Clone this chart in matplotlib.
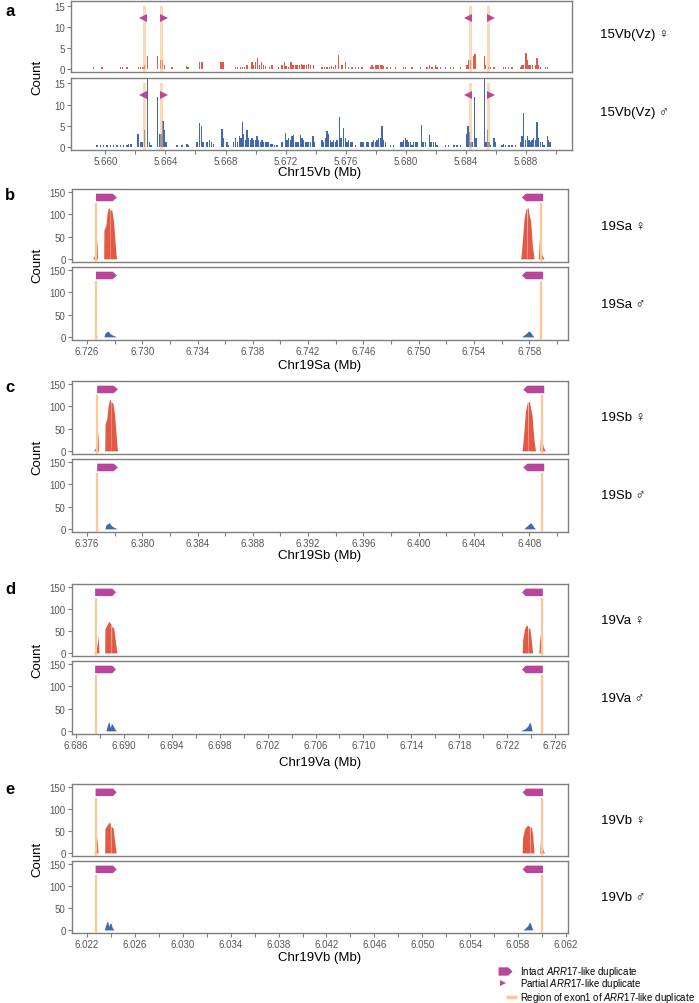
import matplotlib
matplotlib.use("Agg")
import matplotlib.pyplot as plt
from matplotlib.path import Path
from matplotlib.patches import Polygon
import numpy as np

plt.rcParams['font.family'] = ['Liberation Sans', 'DejaVu Sans']
plt.rcParams['mathtext.fontset'] = 'custom'
plt.rcParams['mathtext.it'] = 'Liberation Sans:italic'
plt.rcParams['mathtext.rm'] = 'Liberation Sans'

RED = "#E05A45"
BLUE = "#4169AF"
MAG = "#B9469B"
ORANGE = "#FDC896"
GRID = "#7f7f7f"

# ---------------- panel a : 15Vb(Vz), binned counts (kb) ----------------
a_fem_pos = [5659.22, 5659.78, 5661.00, 5661.15, 5661.44, 5662.22, 5662.33, 5662.51, 5662.62, 5662.80,
             5663.48, 5663.66, 5663.81, 5663.93, 5664.44, 5665.39, 5665.50, 5666.26, 5666.39, 5666.48,
             5667.70, 5667.83, 5668.65, 5668.81, 5668.99, 5669.14, 5669.27, 5669.43, 5669.76, 5669.87,
             5669.98, 5670.14, 5670.27, 5670.38, 5670.54, 5670.65, 5670.94, 5671.09, 5671.54, 5671.76,
             5671.91, 5672.03, 5672.20, 5672.36, 5672.49, 5672.65, 5672.76, 5672.91, 5673.05, 5673.16,
             5673.27, 5673.38, 5673.53, 5673.64, 5673.87, 5674.42, 5674.58, 5674.76, 5674.91, 5675.04,
             5675.20, 5675.31, 5675.53, 5675.75, 5675.97, 5676.19, 5676.42, 5676.64, 5676.86, 5677.09,
             5677.64, 5677.75, 5677.86, 5677.97, 5678.08, 5678.19, 5678.30, 5678.42, 5678.53, 5678.75,
             5678.97, 5679.30, 5679.86, 5679.97, 5680.41, 5680.97, 5681.41, 5681.59, 5681.74, 5681.96,
             5682.08, 5682.30, 5682.63, 5682.96, 5683.18, 5683.63, 5684.07, 5684.18, 5684.29, 5684.51,
             5684.60, 5685.23, 5685.31, 5685.51, 5685.63, 5685.85, 5686.51, 5686.62, 5686.84, 5687.07,
             5687.62, 5687.73, 5687.84, 5688.00, 5688.07, 5688.18, 5688.29, 5688.44, 5688.62, 5688.73,
             5688.80, 5688.95, 5689.29, 5689.40]
a_fem_cnt = [0.5, 0.5, 0.5, 0.5, 0.5, 0.5, 0.5, 0.5, 1, 3,
             3, 2, 2, 1, 0.5, 0.7, 0.5, 1.5, 1.5, 1.5,
             1.5, 1.5, 0.5, 0.5, 0.5, 0.5, 0.5, 1, 1.5, 1,
             1.5, 2.5, 1, 1.5, 1, 0.7, 0.5, 1, 0.5, 1,
             1.5, 0.7, 0.5, 1.5, 1, 1, 1, 1, 1.2, 1,
             1, 1, 1.2, 1, 1, 0.5, 0.5, 0.5, 0.5, 0.7,
             0.5, 1, 3.3, 1, 1.5, 0.5, 0.5, 0.5, 0.5, 0.5,
             0.5, 1, 0.5, 1, 1, 1, 1, 1, 0.7, 0.5,
             0.5, 0.5, 0.5, 0.5, 0.5, 0.5, 0.5, 1, 0.5, 1,
             0.5, 0.5, 0.5, 0.5, 0.5, 0.5, 1, 2, 2, 3,
             3.5, 3, 1, 0.5, 0.5, 0.5, 0.5, 0.5, 0.5, 0.5,
             0.5, 1, 1, 3.8, 2, 1, 1, 1, 1, 2.5,
             1, 0.5, 0.5, 0.5]

a_mal_pos = [5659.45, 5659.67, 5659.89, 5660.11, 5660.33, 5660.55, 5660.78, 5661.00, 5661.22, 5661.44,
             5661.55, 5661.71, 5662.17, 5662.33, 5662.44, 5662.60, 5662.80, 5662.93, 5663.04, 5663.48,
             5663.62, 5663.70, 5663.84, 5663.93, 5664.04, 5664.77, 5665.10, 5665.44, 5665.55, 5666.10,
             5666.28, 5666.39, 5666.50, 5666.77, 5666.92, 5667.05, 5667.21, 5667.76, 5667.83, 5668.10,
             5668.21, 5668.54, 5668.65, 5668.81, 5668.94, 5669.03, 5669.14, 5669.21, 5669.32, 5669.43,
             5669.54, 5669.65, 5669.76, 5669.87, 5669.98, 5670.09, 5670.21, 5670.32, 5670.43, 5670.54,
             5670.65, 5670.76, 5670.87, 5670.98, 5671.09, 5671.25, 5671.42, 5671.76, 5671.98, 5672.09,
             5672.20, 5672.31, 5672.42, 5672.53, 5672.64, 5672.75, 5672.87, 5672.98, 5673.09, 5673.20,
             5673.31, 5673.42, 5673.53, 5673.64, 5673.82, 5673.91, 5674.42, 5674.53, 5674.64, 5674.75,
             5674.86, 5674.98, 5675.09, 5675.20, 5675.31, 5675.42, 5675.57, 5675.68, 5675.86, 5675.97,
             5676.08, 5676.20, 5676.31, 5676.42, 5676.64, 5676.97, 5677.08, 5677.19, 5677.42, 5677.53,
             5677.75, 5677.86, 5677.97, 5678.08, 5678.19, 5678.30, 5678.42, 5678.53, 5678.64, 5678.97,
             5679.19, 5679.64, 5679.75, 5679.86, 5679.97, 5680.08, 5680.19, 5680.30, 5680.41, 5680.52,
             5680.63, 5680.75, 5681.03, 5681.08, 5681.19, 5681.30, 5681.59, 5681.68, 5681.85, 5681.97,
             5682.08, 5682.63, 5682.85, 5683.19, 5683.41, 5683.63, 5684.07, 5684.14, 5684.23, 5684.34,
             5684.45, 5684.58, 5684.67, 5685.23, 5685.32, 5685.41, 5685.52, 5685.63, 5685.85, 5685.96,
             5686.40, 5686.51, 5686.62, 5686.85, 5687.07, 5687.29, 5687.62, 5687.73, 5687.84, 5687.96,
             5688.07, 5688.18, 5688.29, 5688.40, 5688.51, 5688.62, 5688.73, 5688.84, 5688.95, 5689.07,
             5689.18, 5689.40, 5689.49, 5689.58]
a_mal_cnt = [0.5, 0.5, 0.5, 0.5, 0.5, 0.5, 0.5, 0.5, 0.5, 0.5,
             0.7, 0.7, 3, 1, 1, 4, 16, 1, 0.5, 11.7,
             3, 3, 6.2, 4, 1, 0.5, 0.5, 0.7, 0.5, 1,
             5.7, 5, 1, 1, 1.5, 1, 0.7, 4.3, 2, 1,
             0.5, 1, 2, 1, 2.5, 2, 5.8, 3, 1.5, 4,
             2, 1.5, 2, 1.5, 1.5, 2.5, 1.5, 1, 1.5, 1,
             1, 1, 1, 0.7, 0.7, 0.5, 0.5, 1, 3.3, 1.5,
             2, 1.5, 2.5, 2.7, 1, 1, 1, 2.8, 2, 1.5,
             1, 1, 1, 1, 2.5, 1, 1.5, 1, 2, 3.6,
             3, 1.5, 1, 1.5, 1, 1.5, 7.1, 2, 4.5, 2,
             1, 1.5, 1, 1, 0.5, 1, 1, 1, 1, 1,
             1, 1.5, 1, 1.5, 2, 2, 5, 1.5, 1, 0.5,
             0.5, 1, 1, 1.5, 2, 1.5, 1, 1, 0.5, 1,
             1, 1, 5.2, 1, 1, 1, 2.8, 1, 1, 1,
             0.5, 0.5, 0.5, 0.5, 0.5, 0.5, 3, 4.8, 3.5, 1,
             1, 11.7, 2, 16, 1, 4, 1, 0.5, 2, 1,
             0.5, 0.7, 0.5, 0.5, 0.5, 0.5, 1, 2.5, 8, 1.5,
             2.5, 1.5, 1, 1.5, 2, 1.5, 5.8, 2, 1, 1,
             0.5, 2.5, 1.5, 1]

a_exon = [5662.62, 5663.77, 5684.29, 5685.49]
a_partial_left = [5662.48, 5684.15]
a_partial_right = [5663.91, 5685.63]

# ---------------- panels b-e : coverage profiles (kb) ----------------
b_fem_pos = [6726.43, 6726.46, 6726.60, 6726.68, 6726.73, 6726.77,
             6727.21, 6727.23, 6727.37, 6727.45, 6727.55, 6727.62, 6727.645, 6727.65, 6727.665, 6727.67,
             6727.80, 6727.92, 6728.02, 6728.12, 6728.15,
             6757.37, 6757.40, 6757.50, 6757.62, 6757.75, 6757.80, 6757.81, 6757.83, 6757.84, 6757.91,
             6757.98, 6758.10, 6758.22, 6758.35,
             6758.64, 6758.66, 6758.73, 6758.80, 6758.92, 6759.07]
b_fem_cnt = [0, 3, 8, 20, 45, 0,
             0, 65, 75, 100, 115, 113, 112, 0, 0, 110,
             110, 85, 45, 5, 0,
             0, 5, 40, 90, 112, 113, 0, 0, 114, 115,
             100, 85, 30, 0,
             0, 3, 45, 25, 8, 0]
b_mal_pos = [6726.66, 6726.68, 6726.72, 6726.74,
             6727.23, 6727.30, 6727.45, 6727.55, 6727.65, 6727.80, 6728.00, 6728.14,
             6757.45, 6757.60, 6757.75, 6757.90, 6758.00, 6758.10, 6758.25, 6758.35,
             6758.72, 6758.74, 6758.78, 6758.80]
b_mal_cnt = [0, 2, 2, 0,
             0, 8, 12, 13, 8, 5, 2, 0,
             0, 4, 7, 12, 13, 10, 3, 0,
             0, 2, 2, 0]
b_exon = [6726.65, 6758.83]
b_intact = [(6726.65, 6728.17), (6759.00, 6757.46)]

c_fem_pos = [6376.50, 6376.53, 6376.66, 6376.74, 6376.80, 6376.84,
             6377.29, 6377.31, 6377.44, 6377.52, 6377.62, 6377.69, 6377.715, 6377.72, 6377.735, 6377.74,
             6377.87, 6377.99, 6378.09, 6378.19, 6378.22,
             6407.47, 6407.50, 6407.60, 6407.72, 6407.85, 6407.90, 6407.91, 6407.93, 6407.94, 6408.01,
             6408.08, 6408.20, 6408.32, 6408.45,
             6408.74, 6408.76, 6408.83, 6408.90, 6409.02, 6409.17]
c_fem_cnt = [0, 3, 8, 20, 45, 0,
             0, 60, 72, 98, 114, 116, 112, 0, 0, 110,
             108, 85, 45, 5, 0,
             0, 5, 40, 88, 108, 110, 0, 0, 110, 112,
             98, 80, 30, 0,
             0, 3, 45, 25, 8, 0]
c_mal_pos = [6376.72, 6376.74, 6376.78, 6376.80,
             6377.30, 6377.37, 6377.52, 6377.62, 6377.72, 6377.87, 6378.07, 6378.19,
             6407.62, 6407.72, 6407.85, 6407.98, 6408.10, 6408.20, 6408.35, 6408.46,
             6408.82, 6408.84, 6408.88, 6408.90]
c_mal_cnt = [0, 2, 2, 0,
             0, 9, 12, 14, 9, 5, 2, 0,
             0, 4, 7, 11, 14, 10, 3, 0,
             0, 2, 2, 0]
c_exon = [6376.74, 6408.95]
c_intact = [(6376.74, 6378.24), (6409.08, 6407.56)]

d_fem_pos = [6687.50, 6687.55, 6687.70, 6687.80, 6687.85, 6687.92,
             6688.40, 6688.42, 6688.55, 6688.70, 6688.78, 6688.85, 6688.93, 6688.94, 6688.97, 6688.98,
             6689.15, 6689.30, 6689.42,
             6723.25, 6723.30, 6723.45, 6723.60, 6723.70, 6723.72, 6723.74, 6723.76, 6723.90, 6724.05,
             6724.12,
             6724.62, 6724.66, 6724.72, 6724.80, 6724.92, 6725.00]
d_fem_cnt = [0, 3, 10, 25, 40, 0,
             0, 55, 62, 70, 72, 68, 66, 0, 0, 60,
             58, 25, 0,
             0, 30, 55, 63, 62, 0, 0, 58, 55, 20,
             0,
             0, 3, 45, 20, 5, 0]
d_mal_pos = [6688.50, 6688.60, 6688.72, 6688.78, 6688.85, 6688.92, 6688.97, 6689.10, 6689.25, 6689.39,
             6723.15, 6723.35, 6723.55, 6723.75, 6723.87, 6723.97, 6724.09]
d_mal_cnt = [0, 10, 20, 19, 8, 12, 17, 12, 4, 0,
             0, 3, 6, 12, 20, 15, 0]
d_exon = [6687.69, 6724.92]
d_intact = [(6687.60, 6689.34), (6724.98, 6723.24)]

e_fem_pos = [6022.58, 6022.62, 6022.72, 6022.80, 6022.84, 6022.92,
             6023.48, 6023.50, 6023.65, 6023.80, 6023.88, 6023.95, 6023.96, 6023.99, 6024.00,
             6024.17, 6024.30, 6024.44,
             6058.34, 6058.38, 6058.55, 6058.75, 6058.83, 6058.95, 6058.96, 6058.99, 6059.00, 6059.11,
             6059.22, 6059.33,
             6059.78, 6059.82, 6059.89, 6059.98, 6060.10, 6060.22]
e_fem_cnt = [0, 3, 12, 25, 38, 0,
             0, 55, 62, 68, 71, 66, 0, 0, 60,
             58, 30, 0,
             0, 35, 55, 62, 63, 61, 0, 0, 58, 60,
             40, 0,
             0, 3, 40, 20, 5, 0]
e_mal_pos = [6023.45, 6023.55, 6023.68, 6023.75, 6023.82, 6023.90, 6024.00, 6024.10, 6024.25,
             6058.40, 6058.55, 6058.70, 6058.85, 6058.95, 6059.05, 6059.22]
e_mal_cnt = [0, 10, 20, 18, 8, 14, 16, 6, 0,
             0, 3, 7, 12, 18, 14, 0]
e_exon = [6022.78, 6060.00]
e_intact = [(6022.72, 6024.48), (6060.08, 6058.38)]

W, H = 699, 1004
fig = plt.figure(figsize=(W / 100, H / 100), dpi=100)


def add_ax(left, top, right, bottom):
    return fig.add_axes([left / W, 1 - bottom / H, (right - left) / W, (bottom - top) / H])


def style(ax, xlim, ylim, yticks, show_x, major, minor):
    ax.set_yticks(yticks)
    for s in ax.spines.values():
        s.set_color(GRID)
        s.set_linewidth(1.0)
    ax.tick_params(axis="both", colors=GRID, labelcolor="#555555", labelsize=7, length=3, width=0.8, pad=1.5)
    if show_x:
        ax.set_xticks(major)
        ax.set_xticks(minor, minor=True)
        ax.set_xticklabels(["%.3f" % v for v in major])
        ax.tick_params(axis="x", which="minor", colors=GRID, length=3, width=0.8)
    else:
        ax.set_xticks([])
    ax.set_xlim(*xlim)
    ax.set_ylim(*ylim)


def draw_arrow(ax, start, end, y=138, h=17, tip=0.30):
    sgn = 1 if end > start else -1
    body_end = end - sgn * tip
    verts = [(start, y - h / 2), (body_end, y - h / 2), (end, y), (body_end, y + h / 2), (start, y + h / 2)]
    ax.add_patch(Polygon([(v[0] / 1000, v[1]) for v in verts], closed=True, color=MAG, lw=0, zorder=5))


# ---------------- panel a ----------------
xa = (5657.72 / 1000, 5691.05 / 1000)
maj_a = [5.660 + 0.004 * i for i in range(8)]
min_a = [5.662 + 0.004 * i for i in range(8)]
ax1 = add_ax(71, 2, 572, 73)
ax2 = add_ax(71, 79, 572, 151)
for ax, pos, cnt, col, show in [(ax1, a_fem_pos, a_fem_cnt, RED, False), (ax2, a_mal_pos, a_mal_cnt, BLUE, True)]:
    ax.bar(np.array(pos) / 1000, cnt, width=0.00009, color=col, lw=0, zorder=2)
    ax.bar(np.array(a_exon) / 1000, 15.8, bottom=-0.8, width=0.0002, color="#FDB878", alpha=0.55, lw=0, zorder=3)
    ax.plot(np.array(a_partial_left) / 1000, [12.3] * 2, ls="none", marker="<", ms=6, color=MAG, mew=0, zorder=4)
    ax.plot(np.array(a_partial_right) / 1000, [12.3] * 2, ls="none", marker=">", ms=6, color=MAG, mew=0, zorder=4)
    style(ax, xa, (-0.8, 16.3), [0, 5, 10, 15], show, maj_a, min_a)
fig.text(600 / W, 1 - 35 / H, "15Vb(Vz) ♀", fontsize=9.5, va="center")
fig.text(600 / W, 1 - 113 / H, "15Vb(Vz) ♂", fontsize=9.5, va="center")
fig.text(320 / W, 1 - 173 / H, "Chr15Vb (Mb)", fontsize=9.5, ha="center", va="center")
fig.text(37 / W, 1 - 77 / H, "Count", fontsize=9.5, rotation=90, ha="center", va="center")
fig.text(5 / W, 1 - 12 / H, "a", fontsize=12, fontweight="bold", va="center")

# ---------------- panels b-e ----------------
panels = [
    ("b", 190, 263, 268, 341, 366, (6724.92, 6760.80), 6.726, 8, "19Sa", "Chr19Sa (Mb)",
     b_fem_pos, b_fem_cnt, b_mal_pos, b_mal_cnt, b_exon, b_intact),
    ("c", 382, 455, 460, 533, 556, (6374.92, 6410.80), 6.376, 8, "19Sb", "Chr19Sb (Mb)",
     c_fem_pos, c_fem_cnt, c_mal_pos, c_mal_cnt, c_exon, c_intact),
    ("d", 585, 657, 662, 735, 763, (6685.67, 6727.08), 6.686, 10, "19Va", "Chr19Va (Mb)",
     d_fem_pos, d_fem_cnt, d_mal_pos, d_mal_cnt, d_exon, d_intact),
    ("e", 785, 857, 862, 934, 958, (6020.75, 6062.17), 6.022, 10, "19Vb", "Chr19Vb (Mb)",
     e_fem_pos, e_fem_cnt, e_mal_pos, e_mal_cnt, e_exon, e_intact),
]
for (lab, t1, b1, t2, b2, xl_y, xl, first, nstep, name, xlabel,
     fpos, fcnt, mpos, mcnt, exon, intact) in panels:
    top = add_ax(72, t1, 568, b1)
    bot = add_ax(72, t2, 568, b2)
    maj = [first + 0.004 * i for i in range(nstep + 1)]
    mnr = [first - 0.002 + 0.004 * i for i in range(nstep + 2)]
    for ax, pos, cnt, col, show in [(top, fpos, fcnt, RED, False), (bot, mpos, mcnt, BLUE, True)]:
        ax.fill_between(np.array(pos) / 1000, cnt, 0, color=col, lw=0, zorder=2)
        ax.vlines(np.array(exon) / 1000, -7, 126, color=ORANGE, lw=1.6, zorder=3)
        for s, e in intact:
            draw_arrow(ax, s, e)
        style(ax, (xl[0] / 1000, xl[1] / 1000), (-7, 157), [0, 50, 100, 150], show, maj, mnr)
    yc1 = (t1 + b1) / 2
    yc2 = (t2 + b2) / 2
    fig.text(601 / W, 1 - yc1 / H, name + " ♀", fontsize=9.5, va="center")
    fig.text(601 / W, 1 - yc2 / H, name + " ♂", fontsize=9.5, va="center")
    fig.text(320 / W, 1 - xl_y / H, xlabel, fontsize=9.5, ha="center", va="center")
    fig.text(37 / W, 1 - (t1 + b2) / 2 / H, "Count", fontsize=9.5, rotation=90, ha="center", va="center")
    fig.text(5 / W, 1 - (t1 + 5) / H, lab, fontsize=12, fontweight="bold", va="center")

# ---------------- legend (drawn in figure pixel space) ----------------
lax = fig.add_axes([0, 0, 1, 1])
lax.set_xlim(0, W)
lax.set_ylim(H, 0)
lax.axis("off")
arrow_marker = Path([(-1, -0.6), (0.4, -0.6), (1, 0), (0.4, 0.6), (-1, 0.6), (-1, -0.6)],
                    [Path.MOVETO, Path.LINETO, Path.LINETO, Path.LINETO, Path.LINETO, Path.CLOSEPOLY])
lax.plot([505], [972], ls="none", marker=arrow_marker, ms=10, color=MAG, mew=0)
lax.plot([503], [984], ls="none", marker=">", ms=5, color=MAG, mew=0)
lax.plot([506, 517], [998, 998], color=ORANGE, lw=2.5, solid_capstyle="butt")
legend_labels = [r"Intact $\it{ARR17}$-like duplicate",
                 r"Partial $\it{ARR17}$-like duplicate",
                 r"Region of exon1 of $\it{ARR17}$-like duplicate"]
for txt, yy in zip(legend_labels, [972, 984, 998]):
    lax.text(520, yy, txt, fontsize=6.9, va="center", ha="left")

fig.savefig("out.png", dpi=100)
